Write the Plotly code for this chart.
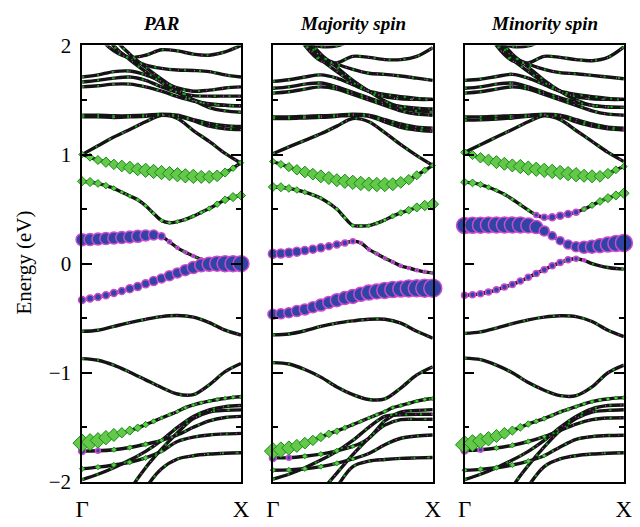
import plotly.graph_objects as go

# k-point grids (fraction of the Gamma-X path)
K11 = [0.0, 0.1, 0.2, 0.3, 0.4, 0.5, 0.6, 0.7, 0.8, 0.9, 1.0]
K21 = [0.0, 0.05, 0.1, 0.15, 0.2, 0.25, 0.3, 0.35, 0.4, 0.45, 0.5,
       0.55, 0.6, 0.65, 0.7, 0.75, 0.8, 0.85, 0.9, 0.95, 1.0]

panel_titles = ["PAR", "Majority spin", "Minority spin"]
x_tick_labels = ["Γ", "X"]
y_ticks = [-2, -1, 0, 1, 2]
y_minor = [-1.5, -0.5, 0.5, 1.5]

# ---------------- PAR ----------------
par_thin = [
    [2.5, 2.1, 1.95, 1.89, 1.91, 1.96, 1.95, 1.92, 1.91, 1.94, 2.0],
    [2.6, 2.25, 1.99, 1.88, 1.82, 1.79, 1.775, 1.77, 1.76, 1.73, 1.71],
    [1.71, 1.73, 1.76, 1.765, 1.73, 1.67, 1.61, 1.58, 1.59, 1.61, 1.62],
    [1.665, 1.68, 1.70, 1.71, 1.68, 1.62, 1.57, 1.54, 1.535, 1.535, 1.535],
    [1.62, 1.63, 1.645, 1.645, 1.62, 1.58, 1.53, 1.49, 1.465, 1.452, 1.447],
    [2.9, 2.45, 2.0, 1.87, 1.76, 1.66, 1.57, 1.50, 1.46, 1.45, 1.447],
    [3.0, 2.55, 2.08, 1.92, 1.80, 1.69, 1.59, 1.50, 1.43, 1.40, 1.388],
    [1.36, 1.36, 1.355, 1.355, 1.36, 1.37, 1.36, 1.32, 1.285, 1.265, 1.257],
    [1.345, 1.345, 1.34, 1.345, 1.35, 1.36, 1.35, 1.31, 1.26, 1.235, 1.228],
    [1.0, 1.08, 1.16, 1.23, 1.30, 1.36, 1.33, 1.22, 1.12, 1.01, 0.92],
    [-0.62, -0.61, -0.575, -0.54, -0.51, -0.485, -0.475, -0.49, -0.54, -0.61, -0.655],
    [-0.87, -0.885, -0.93, -0.995, -1.065, -1.135, -1.195, -1.20, -1.11, -0.99, -0.915],
    [-1.718, -1.715, -1.705, -1.685, -1.655, -1.62, -1.57, -1.50, -1.44, -1.41, -1.40],
    [-1.88, -1.865, -1.845, -1.82, -1.78, -1.72, -1.63, -1.59, -1.57, -1.56, -1.555],
    [-1.98, -1.93, -1.87, -1.80, -1.72, -1.62, -1.50, -1.40, -1.34, -1.31, -1.30],
    [-2.8, -2.6, -2.4, -2.08, -1.87, -1.70, -1.55, -1.42, -1.36, -1.345, -1.34],
    [-3.0, -2.8, -2.6, -2.35, -2.06, -1.88, -1.79, -1.76, -1.745, -1.737, -1.733],
]
par_L2_idx, par_L3_idx = 12, 13

par_d1_E = [1.0, 0.975, 0.95, 0.93, 0.91, 0.895, 0.88, 0.865, 0.855, 0.845, 0.835,
            0.825, 0.815, 0.805, 0.80, 0.795, 0.795, 0.805, 0.835, 0.875, 0.925]
par_d1_S = [5, 6, 7, 8, 8, 9, 10, 10, 11, 11, 11, 11, 11, 11, 11, 10, 10, 9, 7, 5, 4]
par_d2_E = [0.755, 0.748, 0.735, 0.715, 0.69, 0.655, 0.62, 0.585, 0.53, 0.46, 0.395,
            0.375, 0.385, 0.405, 0.435, 0.47, 0.505, 0.545, 0.585, 0.61, 0.625]
par_d2_S = [7, 7, 6, 5, 4, 3, 3, 3, 3, 3, 3, 3, 3, 3, 3, 3, 4, 5, 6, 7, 7]
par_c1_E = [0.22, 0.222, 0.225, 0.23, 0.235, 0.24, 0.245, 0.25, 0.258, 0.262, 0.25,
            0.20, 0.145, 0.105, 0.07, 0.04, 0.02, 0.01, 0.004, 0.001, 0.0]
par_c1_S = [12, 12, 12, 12, 12, 12, 12, 12, 11, 10, 7, 4, 3, 3, 3, 3, 3, 3, 3, 3, 3]
par_c2_E = [-0.333, -0.32, -0.305, -0.29, -0.27, -0.25, -0.23, -0.21, -0.185, -0.16, -0.135,
            -0.11, -0.085, -0.06, -0.035, -0.015, -0.005, 0.0, 0.0, 0.0, 0.0]
par_c2_S = [7, 7, 7, 7, 7, 7, 8, 8, 8, 9, 9, 10, 10, 11, 12, 13, 14, 15, 16, 16, 16]
par_d3_E = [-1.645, -1.635, -1.62, -1.595, -1.57, -1.55, -1.53, -1.505, -1.475, -1.445, -1.415,
            -1.385, -1.355, -1.32, -1.295, -1.275, -1.26, -1.245, -1.235, -1.225, -1.22]
par_d3_S = [14, 13, 12, 11, 10, 8, 7, 6, 5, 4, 3, 3, 3, 3, 3, 3, 3, 3, 3, 3, 3]

# ---------------- Majority ----------------
maj_thin = [
    [2.3, 2.15, 2.03, 1.99, 1.995, 2.05, 2.1, 2.15, 2.2, 2.25, 2.3],
    [2.6, 2.25, 2.0, 1.86, 1.84, 1.90, 1.89, 1.87, 1.87, 1.90, 1.98],
    [2.7, 2.35, 2.05, 1.90, 1.83, 1.78, 1.745, 1.735, 1.72, 1.70, 1.68],
    [1.67, 1.685, 1.71, 1.73, 1.70, 1.64, 1.58, 1.55, 1.53, 1.515, 1.505],
    [1.607, 1.62, 1.645, 1.655, 1.62, 1.57, 1.52, 1.47, 1.44, 1.425, 1.417],
    [1.563, 1.575, 1.60, 1.62, 1.60, 1.55, 1.50, 1.45, 1.40, 1.37, 1.36],
    [2.9, 2.45, 2.02, 1.87, 1.76, 1.66, 1.58, 1.53, 1.51, 1.505, 1.505],
    [3.0, 2.55, 2.1, 1.92, 1.80, 1.68, 1.58, 1.49, 1.43, 1.40, 1.39],
    [1.344, 1.345, 1.35, 1.355, 1.36, 1.37, 1.36, 1.32, 1.28, 1.25, 1.242],
    [1.33, 1.33, 1.335, 1.34, 1.35, 1.36, 1.35, 1.30, 1.25, 1.225, 1.213],
    [1.007, 1.07, 1.13, 1.19, 1.26, 1.33, 1.30, 1.20, 1.09, 0.99, 0.90],
    [-0.653, -0.645, -0.615, -0.575, -0.545, -0.525, -0.51, -0.51, -0.545, -0.62, -0.683],
    [-0.907, -0.92, -0.97, -1.04, -1.13, -1.20, -1.245, -1.24, -1.14, -1.02, -0.945],
    [-1.78, -1.778, -1.765, -1.745, -1.715, -1.675, -1.60, -1.44, -1.36, -1.345, -1.338],
    [-1.893, -1.89, -1.88, -1.86, -1.83, -1.79, -1.74, -1.66, -1.60, -1.58, -1.571],
    [-1.975, -1.93, -1.87, -1.80, -1.72, -1.62, -1.50, -1.40, -1.385, -1.38, -1.38],
    [-2.8, -2.6, -2.4, -2.1, -1.92, -1.75, -1.60, -1.48, -1.43, -1.427, -1.426],
    [-3.0, -2.8, -2.6, -2.35, -2.05, -1.86, -1.81, -1.795, -1.785, -1.78, -1.776],
]
maj_L2_idx, maj_L3_idx = 13, 14

maj_d1_E = [0.936, 0.91, 0.885, 0.86, 0.84, 0.82, 0.80, 0.785, 0.765, 0.755, 0.745,
            0.735, 0.728, 0.725, 0.725, 0.728, 0.745, 0.77, 0.81, 0.855, 0.90]
maj_d1_S = [5, 6, 7, 8, 9, 9, 10, 10, 10, 11, 11, 11, 11, 11, 11, 10, 9, 8, 7, 5, 4]
maj_d2_E = [0.703, 0.70, 0.69, 0.675, 0.655, 0.63, 0.60, 0.555, 0.50, 0.42, 0.35,
            0.345, 0.348, 0.37, 0.40, 0.435, 0.465, 0.49, 0.515, 0.533, 0.545]
maj_d2_S = [7, 7, 6, 5, 4, 3, 3, 3, 3, 3, 3, 3, 3, 3, 3, 4, 5, 6, 7, 8, 9]
maj_c1_E = [0.09, 0.093, 0.10, 0.11, 0.12, 0.132, 0.145, 0.16, 0.175, 0.19, 0.205,
            0.19, 0.13, 0.09, 0.05, 0.015, -0.02, -0.04, -0.06, -0.075, -0.085]
maj_c1_S = [9, 9, 9, 9, 8, 8, 8, 7, 7, 6, 5, 3, 3, 3, 3, 3, 3, 3, 3, 3, 3]
maj_c2_E = [-0.464, -0.46, -0.45, -0.435, -0.42, -0.40, -0.38, -0.355, -0.335, -0.315, -0.30,
            -0.28, -0.265, -0.255, -0.245, -0.237, -0.232, -0.228, -0.226, -0.225, -0.225]
maj_c2_S = [10, 10, 10, 11, 11, 11, 12, 12, 13, 13, 14, 14, 15, 15, 16, 16, 16, 17, 17, 18, 18]
maj_d3_E = [-1.718, -1.705, -1.69, -1.67, -1.645, -1.62, -1.59, -1.56, -1.535, -1.505, -1.475,
            -1.445, -1.415, -1.385, -1.355, -1.32, -1.30, -1.28, -1.26, -1.245, -1.236]
maj_d3_S = [13, 12, 11, 10, 9, 8, 7, 6, 5, 4, 3, 3, 3, 3, 3, 3, 3, 3, 3, 3, 3]

# ---------------- Minority ----------------
min_thin = [
    [2.3, 2.15, 2.03, 1.99, 1.995, 2.05, 2.1, 2.15, 2.2, 2.25, 2.3],
    [2.6, 2.25, 2.0, 1.86, 1.84, 1.90, 1.89, 1.87, 1.86, 1.89, 1.986],
    [2.7, 2.35, 2.05, 1.90, 1.83, 1.78, 1.75, 1.74, 1.725, 1.71, 1.694],
    [1.68, 1.69, 1.715, 1.735, 1.70, 1.64, 1.58, 1.55, 1.53, 1.515, 1.505],
    [1.607, 1.62, 1.645, 1.655, 1.62, 1.57, 1.52, 1.48, 1.45, 1.437, 1.432],
    [1.563, 1.575, 1.60, 1.62, 1.60, 1.55, 1.50, 1.45, 1.40, 1.37, 1.36],
    [2.9, 2.45, 2.02, 1.87, 1.76, 1.66, 1.58, 1.53, 1.51, 1.505, 1.505],
    [3.0, 2.55, 2.1, 1.92, 1.80, 1.68, 1.58, 1.50, 1.45, 1.435, 1.432],
    [1.344, 1.345, 1.35, 1.355, 1.36, 1.37, 1.36, 1.32, 1.28, 1.25, 1.242],
    [1.315, 1.318, 1.325, 1.335, 1.35, 1.36, 1.35, 1.30, 1.26, 1.235, 1.225],
    [1.02, 1.09, 1.16, 1.23, 1.30, 1.355, 1.32, 1.22, 1.12, 1.02, 0.936],
    [-0.639, -0.625, -0.59, -0.55, -0.515, -0.49, -0.478, -0.485, -0.53, -0.61, -0.668],
    [-0.866, -0.88, -0.93, -1.0, -1.09, -1.16, -1.21, -1.21, -1.13, -1.0, -0.93],
    [-1.712, -1.705, -1.69, -1.665, -1.63, -1.585, -1.53, -1.47, -1.43, -1.415, -1.412],
    [-1.893, -1.885, -1.87, -1.845, -1.81, -1.76, -1.68, -1.61, -1.585, -1.575, -1.572],
    [-1.98, -1.93, -1.87, -1.80, -1.72, -1.62, -1.50, -1.40, -1.33, -1.30, -1.295],
    [-2.8, -2.6, -2.4, -2.05, -1.85, -1.68, -1.53, -1.42, -1.36, -1.345, -1.339],
    [-3.0, -2.8, -2.6, -2.3, -2.04, -1.86, -1.79, -1.76, -1.745, -1.737, -1.733],
]
min_L2_idx, min_L3_idx = 13, 14

min_d1_E = [1.02, 0.995, 0.97, 0.95, 0.93, 0.915, 0.90, 0.89, 0.875, 0.865, 0.855,
            0.845, 0.835, 0.825, 0.815, 0.805, 0.80, 0.80, 0.825, 0.86, 0.89]
min_d1_S = [6, 7, 8, 9, 10, 10, 10, 11, 11, 11, 11, 11, 11, 11, 11, 10, 10, 9, 8, 6, 5]
min_d2_E = [0.747, 0.74, 0.725, 0.70, 0.67, 0.635, 0.59, 0.54, 0.49, 0.445, 0.425,
            0.425, 0.44, 0.455, 0.47, 0.50, 0.535, 0.57, 0.60, 0.625, 0.645]
min_d2_S = [6, 6, 5, 4, 3, 3, 3, 3, 3, 0, 0, 0, 0, 0, 0, 4, 5, 6, 7, 7, 8]
min_c3_S = [0, 0, 0, 0, 0, 0, 0, 0, 0, 5, 6, 7, 7, 7, 6, 4, 0, 0, 0, 0, 0]
min_c1_E = [0.35, 0.352, 0.353, 0.355, 0.355, 0.355, 0.355, 0.355, 0.35, 0.335, 0.30,
            0.255, 0.21, 0.175, 0.155, 0.15, 0.155, 0.165, 0.175, 0.185, 0.19]
min_c1_S = [16, 16, 16, 16, 16, 16, 16, 16, 15, 13, 10, 8, 8, 9, 10, 12, 13, 14, 15, 16, 17]
min_c2_E = [-0.289, -0.285, -0.275, -0.26, -0.24, -0.215, -0.19, -0.16, -0.125, -0.09, -0.055,
            -0.02, 0.01, 0.035, 0.045, 0.03, 0.0, -0.02, -0.035, -0.045, -0.05]
min_c2_S = [6, 6, 6, 6, 6, 6, 6, 6, 6, 6, 6, 6, 6, 6, 5, 3, 0, 0, 0, 0, 0]
min_d3_E = [-1.66, -1.645, -1.625, -1.605, -1.58, -1.555, -1.53, -1.50, -1.47, -1.445, -1.42,
            -1.39, -1.36, -1.335, -1.31, -1.285, -1.265, -1.25, -1.24, -1.232, -1.228]
min_d3_S = [14, 13, 12, 11, 10, 9, 7, 6, 5, 4, 4, 3, 3, 3, 3, 3, 3, 3, 3, 3, 3]

# small projections on the lower bands (11 k-points)
L2_blob_S = [7, 5, 0, 0, 0, 0, 0, 0, 0, 0, 0]
L2_dia_S = [0, 0, 4, 4, 4, 3, 0, 0, 0, 0, 0]
L3_dia_S = [4, 4, 4, 4, 4, 3, 0, 0, 0, 0, 0]

# ---------------- styling ----------------
FONT = "Liberation Serif"
LINE_COL = "#141414"
DOT_GREEN = "rgb(25,160,25)"
DOT_MAG = "rgb(205,85,205)"
DIA_FILL = "rgb(100,200,75)"
DIA_EDGE = "rgb(20,140,20)"
CIR_FILL = "rgb(48,68,165)"
CIR_EDGE = "rgb(205,75,205)"

x_domains = [[77 / 640, 240 / 640], [272.7 / 640, 436.7 / 640], [469.3 / 640, 632.7 / 640]]
y_domain = [(527 - 492.3) / 527, (527 - 35) / 527]

fig = go.Figure()


def band_line(K, E, xa, ya):
    fig.add_trace(go.Scatter(x=K, y=E, mode="lines", xaxis=xa, yaxis=ya,
                             line=dict(color=LINE_COL, width=3.4, shape="spline", smoothing=0.9),
                             hoverinfo="skip", showlegend=False))


def band_dots(K, E, xa, ya):
    fig.add_trace(go.Scatter(x=K, y=E, mode="lines", xaxis=xa, yaxis=ya,
                             line=dict(color=DOT_MAG, width=1.2, shape="spline", smoothing=0.9, dash="1px,15px"),
                             hoverinfo="skip", showlegend=False))
    fig.add_trace(go.Scatter(x=K, y=E, mode="lines", xaxis=xa, yaxis=ya,
                             line=dict(color=DOT_GREEN, width=2.0, shape="spline", smoothing=0.9, dash="2px,13px"),
                             hoverinfo="skip", showlegend=False))


def marks(K, E, S, kind, xa, ya):
    pts = [(k, e, s) for k, e, s in zip(K, E, S) if s > 0]
    if not pts:
        return
    kx, ey, sz = zip(*pts)
    if kind == "d":
        mk = dict(symbol="diamond", size=list(sz), color=DIA_FILL, opacity=1,
                  line=dict(color=DIA_EDGE, width=1))
    else:
        mk = dict(symbol="circle", size=list(sz), color=CIR_FILL, opacity=1,
                  line=dict(color=CIR_EDGE, width=1.5))
    fig.add_trace(go.Scatter(x=list(kx), y=list(ey), mode="markers", xaxis=xa, yaxis=ya,
                             marker=mk, cliponaxis=False, hoverinfo="skip", showlegend=False))


panels = [
    dict(thin=par_thin, L2=par_L2_idx, L3=par_L3_idx,
         fat_d=[(par_d1_E, par_d1_S), (par_d2_E, par_d2_S), (par_d3_E, par_d3_S)],
         fat_c=[(par_c1_E, par_c1_S), (par_c2_E, par_c2_S)]),
    dict(thin=maj_thin, L2=maj_L2_idx, L3=maj_L3_idx,
         fat_d=[(maj_d1_E, maj_d1_S), (maj_d2_E, maj_d2_S), (maj_d3_E, maj_d3_S)],
         fat_c=[(maj_c1_E, maj_c1_S), (maj_c2_E, maj_c2_S)]),
    dict(thin=min_thin, L2=min_L2_idx, L3=min_L3_idx,
         fat_d=[(min_d1_E, min_d1_S), (min_d2_E, min_d2_S), (min_d3_E, min_d3_S)],
         fat_c=[(min_c1_E, min_c1_S), (min_c2_E, min_c2_S), (min_d2_E, min_c3_S)]),
]

for i, p in enumerate(panels):
    xa = "x" if i == 0 else f"x{i + 1}"
    ya = "y" if i == 0 else f"y{i + 1}"
    fat_curves = [E for E, _ in p["fat_d"]] + [E for E, _ in p["fat_c"][:2]]
    for E in p["thin"]:
        band_line(K11, E, xa, ya)
    for E in fat_curves:
        band_line(K21, E, xa, ya)
    for E in p["thin"]:
        band_dots(K11, E, xa, ya)
    for E in fat_curves:
        band_dots(K21, E, xa, ya)
    marks(K11, p["thin"][p["L2"]], L2_blob_S, "c", xa, ya)
    for E, S in p["fat_c"]:
        marks(K21, E, S, "c", xa, ya)
    marks(K11, p["thin"][p["L2"]], L2_dia_S, "d", xa, ya)
    marks(K11, p["thin"][p["L3"]], L3_dia_S, "d", xa, ya)
    for E, S in p["fat_d"]:
        marks(K21, E, S, "d", xa, ya)

layout = dict(
    width=640, height=527, margin=dict(l=0, r=0, t=0, b=0),
    paper_bgcolor="white", plot_bgcolor="white", showlegend=False,
    font=dict(family=FONT, color="black"),
)
for i in range(3):
    sx = "" if i == 0 else str(i + 1)
    layout["xaxis" + sx] = dict(
        domain=x_domains[i], range=[0, 1], anchor="y" + sx,
        tickmode="array", tickvals=[0, 1], ticktext=x_tick_labels, ticks="",
        showline=True, linecolor="black", linewidth=1.5, mirror=True,
        showgrid=False, zeroline=False,
        tickfont=dict(family=FONT, size=23, color="black"),
        ticklabelstandoff=6,
    )
    layout["yaxis" + sx] = dict(
        domain=y_domain, range=[-2, 2], anchor="x" + sx,
        tickmode="array", tickvals=y_ticks, ticks="inside", ticklen=10, tickwidth=1.5,
        tickcolor="black", showline=True, linecolor="black", linewidth=1.5, mirror="ticks",
        minor=dict(tickmode="array", tickvals=y_minor, ticks="inside", ticklen=5,
                   tickwidth=1.5, tickcolor="black", showgrid=False),
        showgrid=False, zeroline=False, showticklabels=(i == 0),
        tickfont=dict(family=FONT, size=21, color="black"),
        ticklabelstandoff=5,
    )
fig.update_layout(**layout)

title_x = [(x_domains[i][0] + x_domains[i][1]) / 2 for i in range(3)]
for i, t in enumerate(panel_titles):
    fig.add_annotation(x=title_x[i], y=1.0, xref="paper", yref="paper",
                       text=f"<b><i>{t}</i></b>", showarrow=False,
                       font=dict(family=FONT, size=19, color="black"),
                       xanchor="center", yanchor="top", borderpad=0)
fig.add_annotation(x=17 / 640, y=(527 - 263) / 527, xref="paper", yref="paper",
                   text="Energy (eV)", textangle=-90, showarrow=False,
                   font=dict(family=FONT, size=21, color="black"),
                   xanchor="center", yanchor="middle")

fig.write_html("out.html")
